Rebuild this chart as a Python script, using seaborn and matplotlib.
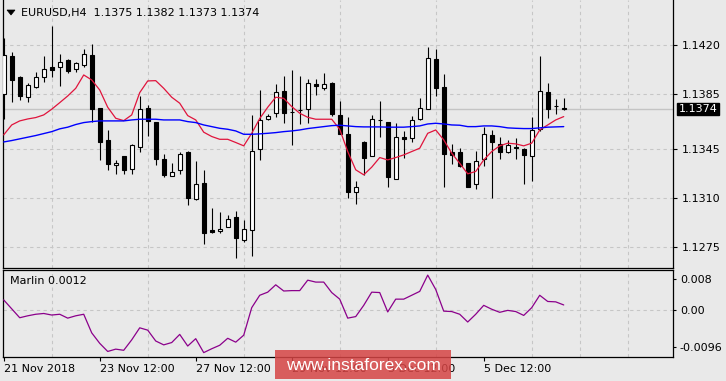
import numpy as np
import pandas as pd
import matplotlib
matplotlib.use("Agg")
import matplotlib.pyplot as plt
import seaborn as sns
from matplotlib.patches import Rectangle, Polygon
from matplotlib.ticker import MultipleLocator, FixedLocator

# ---------------- data (EURUSD H4) ----------------
opens = [1.13849, 1.14121, 1.13971, 1.13825, 1.13896, 1.13973, 1.14040, 1.14040, 1.14090, 1.14026,
         1.14054, 1.14128, 1.13746, 1.13516, 1.13335, 1.13404, 1.13309, 1.13466, 1.13746, 1.13648,
         1.13380, 1.13258, 1.13299, 1.13433, 1.13093, 1.13208, 1.12871, 1.12864, 1.12893, 1.12964,
         1.12797, 1.12869, 1.13452, 1.13667, 1.13710, 1.13870, 1.13720, 1.13734, 1.13739, 1.13918,
         1.13894, 1.13930, 1.13698, 1.13562, 1.13144, 1.13505, 1.13402, 1.13662, 1.13646, 1.13237,
         1.13543, 1.13531, 1.13667, 1.13739, 1.14097, 1.13896, 1.13430, 1.13430, 1.13352, 1.13201,
         1.13380, 1.13555, 1.13488, 1.13435, 1.13469, 1.13454, 1.13402, 1.13598, 1.13863, 1.13763,
         1.13750]
highs = [1.14248, 1.14150, 1.13975, 1.13930, 1.14006, 1.14121, 1.14336, 1.14135, 1.14097, 1.14078,
         1.14169, 1.14207, 1.13750, 1.13591, 1.13371, 1.13406, 1.13488, 1.13834, 1.13767, 1.13650,
         1.13416, 1.13352, 1.13433, 1.13438, 1.13368, 1.13304, 1.13029, 1.12998, 1.12976, 1.13010,
         1.12945, 1.13698, 1.13877, 1.13705, 1.13920, 1.13978, 1.14021, 1.13978, 1.13954, 1.13954,
         1.14002, 1.13932, 1.13798, 1.13686, 1.13220, 1.13512, 1.13698, 1.13798, 1.13650, 1.13638,
         1.13579, 1.13691, 1.13822, 1.14188, 1.14169, 1.13992, 1.13488, 1.13459, 1.13355, 1.13440,
         1.13614, 1.13591, 1.13543, 1.13519, 1.13533, 1.13459, 1.13686, 1.14124, 1.13930, 1.13813,
         1.13820]
lows = [1.13667, 1.13794, 1.13806, 1.13794, 1.13889, 1.13937, 1.13973, 1.13908, 1.14002, 1.14004,
        1.14045, 1.13650, 1.13375, 1.13304, 1.13277, 1.13273, 1.13277, 1.13435, 1.13548, 1.13335,
        1.13249, 1.13256, 1.13277, 1.13048, 1.13089, 1.12768, 1.12847, 1.12850, 1.12890, 1.12668,
        1.12785, 1.12682, 1.13375, 1.13662, 1.13686, 1.13643, 1.13483, 1.13634, 1.13643, 1.13841,
        1.13877, 1.13691, 1.13562, 1.13105, 1.13058, 1.13268, 1.13400, 1.13536, 1.13184, 1.13235,
        1.13387, 1.13500, 1.13662, 1.13737, 1.13834, 1.13177, 1.13347, 1.13323, 1.13177, 1.13168,
        1.13328, 1.13105, 1.13383, 1.13428, 1.13383, 1.13203, 1.13225, 1.13579, 1.13679, 1.13703,
        1.13730]
closes = [1.14128, 1.13949, 1.13837, 1.13913, 1.13968, 1.14026, 1.14023, 1.14076, 1.14016, 1.14069,
          1.14133, 1.13739, 1.13507, 1.13349, 1.13354, 1.13299, 1.13481, 1.13739, 1.13657, 1.13385,
          1.13270, 1.13287, 1.13416, 1.13098, 1.13201, 1.12847, 1.12859, 1.12878, 1.12950, 1.12811,
          1.12878, 1.13440, 1.13662, 1.13693, 1.13861, 1.13710, 1.13720, 1.13734, 1.13925, 1.13908,
          1.13918, 1.13705, 1.13564, 1.13148, 1.13180, 1.13387, 1.13667, 1.13662, 1.13251, 1.13538,
          1.13528, 1.13662, 1.13746, 1.14104, 1.13889, 1.13416, 1.13411, 1.13332, 1.13184, 1.13366,
          1.13560, 1.13500, 1.13430, 1.13483, 1.13459, 1.13407, 1.13591, 1.13870, 1.13744, 1.13760,
          1.13740]
ma_fast = [1.13555, 1.13626, 1.13655, 1.13669, 1.13679, 1.13698, 1.13739, 1.13786, 1.13834, 1.13889,
           1.13985, 1.13949, 1.13877, 1.13753, 1.13674, 1.13657, 1.13698, 1.13858, 1.13942, 1.13944,
           1.13889, 1.13825, 1.13782, 1.13693, 1.13662, 1.13574, 1.13543, 1.13523, 1.13523, 1.13500,
           1.13476, 1.13566, 1.13672, 1.13753, 1.13825, 1.13817, 1.13758, 1.13710, 1.13681, 1.13667,
           1.13667, 1.13667, 1.13595, 1.13435, 1.13304, 1.13268, 1.13323, 1.13392, 1.13375, 1.13392,
           1.13411, 1.13435, 1.13459, 1.13566, 1.13590, 1.13519, 1.13423, 1.13351, 1.13275, 1.13292,
           1.13375, 1.13435, 1.13476, 1.13495, 1.13490, 1.13476, 1.13495, 1.13590, 1.13626, 1.13662,
           1.13686]
ma_slow = [1.13504, 1.13514, 1.13526, 1.13538, 1.13550, 1.13564, 1.13578, 1.13598, 1.13610, 1.13629,
           1.13643, 1.13650, 1.13655, 1.13655, 1.13655, 1.13655, 1.13662, 1.13667, 1.13667, 1.13667,
           1.13662, 1.13662, 1.13662, 1.13650, 1.13643, 1.13626, 1.13614, 1.13602, 1.13595, 1.13583,
           1.13559, 1.13559, 1.13562, 1.13566, 1.13571, 1.13578, 1.13583, 1.13590, 1.13600, 1.13607,
           1.13614, 1.13621, 1.13624, 1.13619, 1.13614, 1.13612, 1.13612, 1.13612, 1.13610, 1.13610,
           1.13610, 1.13614, 1.13619, 1.13633, 1.13638, 1.13633, 1.13626, 1.13624, 1.13614, 1.13614,
           1.13619, 1.13619, 1.13614, 1.13605, 1.13602, 1.13600, 1.13600, 1.13605, 1.13610, 1.13612,
           1.13614]
marlin = [0.0026, 0.0003, -0.0020, -0.0015, -0.0011, -0.0009, -0.0013, -0.0011, -0.0021, -0.0015,
          -0.0011, -0.0059, -0.0086, -0.0107, -0.0101, -0.0104, -0.0077, -0.0046, -0.0052, -0.0080,
          -0.0090, -0.0084, -0.0063, -0.0093, -0.0074, -0.0110, -0.0100, -0.0091, -0.0073, -0.0083,
          -0.0065, 0.0006, 0.0038, 0.0046, 0.0065, 0.0049, 0.0050, 0.0050, 0.0077, 0.0072,
          0.0072, 0.0045, 0.0028, -0.0021, -0.0017, 0.0012, 0.0046, 0.0045, -0.0005, 0.0028,
          0.0028, 0.0038, 0.0048, 0.0090, 0.0053, -0.0003, -0.0004, -0.0011, -0.0031, -0.0011,
          0.0012, 0.0002, -0.0006, -0.0001, -0.0004, -0.0014, 0.0006, 0.0038, 0.0022, 0.0021,
          0.0013]

price_ticks = [1.1420, 1.1385, 1.1345, 1.1310, 1.1275]
price_labels = ["1.1420", "1.1385", "1.1345", "1.1310", "1.1275"]
ind_ticks = [0.008, 0.0, -0.0096]
ind_labels = ["0.008", "0.00", "-0.0096"]
time_tick_bars = [0, 12, 24, 36, 48, 60]
time_labels = ["21 Nov 2018", "23 Nov 12:00", "27 Nov 12:00", "29 Nov 12:00", "3 Dec 12:00", "5 Dec 12:00"]
title = "EURUSD,H4  1.1375 1.1382 1.1373 1.1374"
last_price = 1.1374
last_label = "1.1374"
ind_title = "Marlin 0.0012"
watermark = "www.instaforex.com"

df = pd.DataFrame({"bar": np.arange(len(opens)), "open": opens, "high": highs,
                   "low": lows, "close": closes, "fast": ma_fast, "slow": ma_slow,
                   "marlin": marlin})

# ---------------- style ----------------
BG = "#e9e9e9"
sns.set_theme(style="white", rc={"axes.facecolor": BG, "figure.facecolor": BG})
plt.rcParams["font.family"] = ["DejaVu Sans"]
plt.rcParams["font.size"] = 8

W, H = 726, 381
fig = plt.figure(figsize=(W / 100, H / 100), dpi=100)
fig.patch.set_facecolor(BG)
ax = fig.add_axes([3 / W, 1 - 268 / H, 670 / W, 268 / H])
ax2 = fig.add_axes([3 / W, 1 - 357 / H, 670 / W, 87 / H], sharex=ax)

grid_kw = dict(color="#c6c6c6", linestyle=(0, (3, 3)), linewidth=0.8)

# ---------------- main panel ----------------
ax.axhline(last_price, color="#c4c4c4", lw=1.0, zorder=1)
ax.vlines(df["bar"], df["low"], df["high"], color="black", lw=0.8, zorder=3)
bull = df["close"] > df["open"]
body_bottom = np.minimum(df["open"], df["close"])
body_height = np.abs(df["close"] - df["open"])
ax.bar(df["bar"], body_height, bottom=body_bottom, width=0.5,
       color=np.where(bull, "white", "black"), edgecolor="black", linewidth=0.8, zorder=4)
sns.lineplot(data=df, x="bar", y="fast", ax=ax, color="#e0143c", lw=0.9, zorder=5)
sns.lineplot(data=df, x="bar", y="slow", ax=ax, color="#0000ff", lw=1.0, zorder=5)

ax.set_xlim(-0.09, 83.66)
ax.set_ylim(1.12599, 1.14523)
ax.yaxis.tick_right()
ax.set_yticks(price_ticks)
ax.set_yticklabels(price_labels)
ax.tick_params(axis="y", direction="out", length=3, width=0.8, pad=3, labelsize=8,
               colors="black", right=True, left=False)
ax.tick_params(axis="x", which="both", length=0, labelbottom=False)
ax.xaxis.set_minor_locator(MultipleLocator(6))
ax.grid(axis="y", which="major", **grid_kw)
ax.grid(axis="x", which="minor", **grid_kw)
ax.set_axisbelow(True)
ax.set_xlabel("")
ax.set_ylabel("")
for s in ["left", "right", "bottom"]:
    ax.spines[s].set_color("black")
    ax.spines[s].set_linewidth(0.9)
ax.spines["top"].set_visible(False)

ax.annotate(last_label, xy=(1.0, last_price), xycoords=("axes fraction", "data"),
            xytext=(4, 0), textcoords="offset points", ha="left", va="center",
            color="white", fontsize=8,
            bbox=dict(boxstyle="square,pad=0.12", fc="black", ec="black"),
            annotation_clip=False)

# ---------------- indicator panel ----------------
sns.lineplot(data=df, x="bar", y="marlin", ax=ax2, color="#8b008b", lw=0.9, zorder=5)
ax2.set_ylim(-0.01213, 0.01032)
ax2.yaxis.tick_right()
ax2.set_yticks(ind_ticks)
ax2.set_yticklabels(ind_labels)
ax2.tick_params(axis="y", direction="out", length=2, width=0.8, pad=3, labelsize=8,
                colors="black", right=True, left=False)
ax2.xaxis.set_major_locator(FixedLocator(time_tick_bars))
ax2.set_xticklabels(time_labels)
for lbl in ax2.get_xticklabels():
    lbl.set_ha("left")
ax2.tick_params(axis="x", which="major", direction="out", length=3, width=0.8, pad=2,
                labelsize=8, colors="black", bottom=True)
ax2.tick_params(axis="x", which="minor", length=0)
ax2.grid(axis="x", which="minor", **grid_kw)
ax2.yaxis.grid(False)
ax2.axhline(0.0, zorder=1, **grid_kw)
ax2.set_axisbelow(True)
ax2.set_xlabel("")
ax2.set_ylabel("")
for s in ax2.spines.values():
    s.set_color("black")
    s.set_linewidth(0.9)
ax2.text(7 / 670, 1 - 11 / 87, ind_title, transform=ax2.transAxes, ha="left", va="center",
         fontsize=8, color="black")

# ---------------- header ----------------
tri = Polygon([[7 / W, 1 - 10 / H], [15 / W, 1 - 10 / H], [11 / W, 1 - 15 / H]],
              closed=True, transform=fig.transFigure, fc="black", ec="black", lw=0.5)
fig.add_artist(tri)
fig.text(21 / W, 1 - 13 / H, title, ha="left", va="center", fontsize=8, color="black")

# ---------------- watermark ----------------
fig.add_artist(Rectangle((275 / W, 1 - 379 / H), 176 / W, 29 / H, transform=fig.transFigure,
                         fc="#d64545", ec="none", alpha=0.85, zorder=20))
fig.text(363 / W, 1 - 365 / H, watermark, ha="center", va="center", fontsize=12.5,
         family=["Liberation Sans", "DejaVu Sans"], color="white", zorder=21)

fig.savefig("out.png", dpi=100, facecolor=BG)
